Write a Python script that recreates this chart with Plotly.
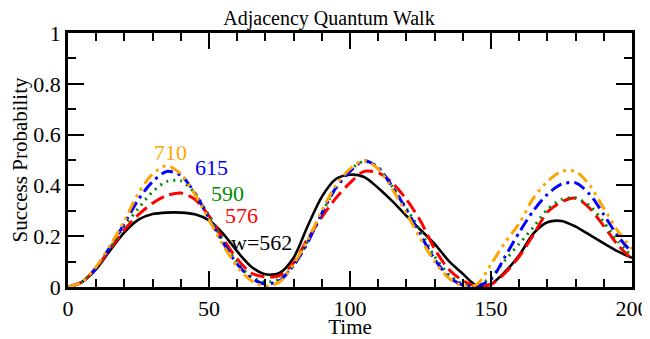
import plotly.graph_objects as go

# time grid and success probability for each graph size
time = list(range(0, 201, 5))

p_562 = [0, 0.02, 0.07, 0.145, 0.215, 0.265, 0.287, 0.293, 0.293, 0.286,
         0.262, 0.21, 0.14, 0.08, 0.05, 0.055, 0.115, 0.24, 0.355, 0.425,
         0.442, 0.433, 0.39, 0.338, 0.28, 0.225, 0.17, 0.103, 0.052, 0.005,
         0.012, 0.06, 0.125, 0.21, 0.255, 0.26, 0.238, 0.205, 0.172, 0.14, 0.115]
p_576 = [0, 0.02, 0.075, 0.15, 0.225, 0.285, 0.33, 0.36, 0.37, 0.345,
         0.28, 0.19, 0.11, 0.055, 0.04, 0.045, 0.095, 0.19, 0.275, 0.35,
         0.41, 0.455, 0.45, 0.41, 0.345, 0.26, 0.15, 0.07, 0.025, 0.003,
         0.01, 0.055, 0.12, 0.205, 0.295, 0.335, 0.35, 0.31, 0.24, 0.165, 0.11]
p_590 = [0, 0.02, 0.075, 0.155, 0.24, 0.31, 0.375, 0.415, 0.418, 0.37,
         0.28, 0.18, 0.095, 0.04, 0.02, 0.03, 0.085, 0.18, 0.29, 0.39,
         0.46, 0.495, 0.47, 0.395, 0.31, 0.22, 0.12, 0.05, 0.012, 0.005,
         0.04, 0.105, 0.17, 0.235, 0.305, 0.345, 0.35, 0.32, 0.255, 0.18, 0.12]
p_615 = [0, 0.02, 0.075, 0.16, 0.25, 0.345, 0.415, 0.455, 0.44, 0.37,
         0.27, 0.175, 0.09, 0.035, 0.012, 0.025, 0.085, 0.175, 0.29, 0.39,
         0.455, 0.497, 0.47, 0.395, 0.305, 0.205, 0.11, 0.04, 0.008, 0.005,
         0.03, 0.12, 0.215, 0.3, 0.365, 0.405, 0.41, 0.365, 0.285, 0.2, 0.135]
p_710 = [0, 0.02, 0.08, 0.165, 0.26, 0.37, 0.445, 0.478, 0.445, 0.365,
         0.265, 0.165, 0.08, 0.025, 0.003, 0.02, 0.09, 0.185, 0.3, 0.4,
         0.465, 0.498, 0.465, 0.385, 0.29, 0.19, 0.1, 0.035, 0.005, 0.01,
         0.09, 0.175, 0.25, 0.35, 0.415, 0.455, 0.455, 0.4, 0.31, 0.22, 0.15]

labels = ["w=562", "576", "590", "615", "710"]
series = [p_562, p_576, p_590, p_615, p_710]
colors = ["#000000", "#ff0000", "#008b00", "#0000ff", "#ffa500"]
dashes = ["solid", "14px,6px", "2px,5px", "12px,5px,3px,5px", "12px,5px,3px,5px,3px,5px"]
# where each curve's label sits (data coords)
label_pos = [(68.5, 0.176), (61.5, 0.28), (56.5, 0.37), (51, 0.47), (36.3, 0.53)]

FONT = "Liberation Serif, Times New Roman, Times, serif"

fig = go.Figure()
for y, c, d in zip(series, colors, dashes):
    fig.add_trace(go.Scatter(
        x=time, y=y, mode="lines",
        line=dict(color=c, width=3 if d != "solid" else 2.6, dash=d, shape="spline", smoothing=0.8),
        showlegend=False, hoverinfo="skip",
    ))

for lab, c, (tx, ty) in zip(labels, colors, label_pos):
    fig.add_annotation(x=tx, y=ty, text=lab, showarrow=False,
                       font=dict(family=FONT, size=22, color=c))

axis_common = dict(
    showline=True, linecolor="black", linewidth=2.5, mirror="allticks",
    ticks="inside", ticklen=16, tickwidth=2, tickcolor="black",
    showgrid=False, zeroline=False, automargin=False,
    tickfont=dict(family=FONT, size=22, color="black"),
)

# the page body adds an 8px offset, so the figure is 8px smaller each way
fig.update_layout(
    width=642, height=331,
    margin=dict(l=60, r=18, t=25, b=52),
    paper_bgcolor="white", plot_bgcolor="white",
    font=dict(family=FONT, color="black"),
    title=dict(text="Adjacency Quantum Walk", x=0.5, xanchor="center",
               yref="container", y=0.99, yanchor="top",
               font=dict(family=FONT, size=20, color="black")),
    xaxis=dict(range=[0, 200], dtick=50, tick0=0,
               minor=dict(dtick=10, ticklen=8, tickwidth=2, ticks="inside", tickcolor="black"),
               title=dict(text="Time", font=dict(family=FONT, size=21, color="black"), standoff=3),
               **axis_common),
    yaxis=dict(range=[0, 1], dtick=0.2, tick0=0,
               tickvals=[0, 0.2, 0.4, 0.6, 0.8, 1], ticktext=["0", "0.2", "0.4", "0.6", "0.8", "1"],
               minor=dict(dtick=0.1, ticklen=8, tickwidth=2, ticks="inside", tickcolor="black"),
               title=dict(text="Success Probability", font=dict(family=FONT, size=21, color="black"), standoff=4),
               **axis_common),
)

fig.write_html("out.html")
